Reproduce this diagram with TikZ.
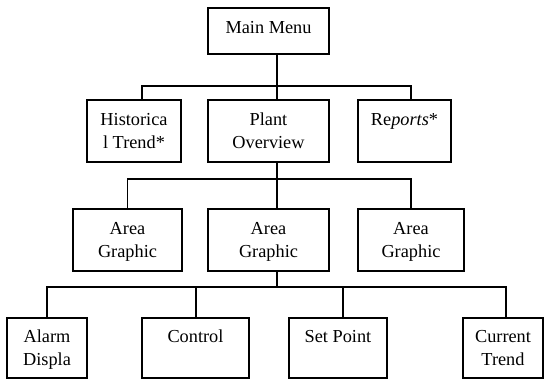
\documentclass[tikz,border=0pt]{standalone}
\usepackage{fontspec}
\setmainfont{Liberation Serif}

\begin{document}
\begin{tikzpicture}[x=1pt, y=-1pt, line width=1.6pt,
		menubox/.style={draw, rectangle, inner sep=0pt, align=center,
			font=\fontsize{18.3}{23}\selectfont, text height=35pt, text depth=0.4pt}]
			\useasboundingbox (0,0) rectangle (544,380);
			
			\node[menubox, minimum width=121pt, minimum height=46pt, text height=12pt, text depth=8pt] (mm) at (268.5,31) {Main Menu};
			
			\node[menubox, minimum width=94pt, minimum height=62pt] (hist) at (134,131) {Historica\\l Trend*};
			\node[menubox, minimum width=121pt, minimum height=62pt] (plant) at (268.5,131) {Plant\\Overview};
			\node[menubox, minimum width=93pt, minimum height=62pt] (rep) at (404.5,131) {Re\textit{ports}*\\\mbox{}};
			
			\node[menubox, minimum width=109pt, minimum height=62pt] (area1) at (127.5,240) {Area\\Graphic};
			\node[menubox, minimum width=121pt, minimum height=62pt] (area2) at (268.5,240) {Area\\Graphic};
			\node[menubox, minimum width=106pt, minimum height=62pt] (area3) at (411,240) {Area\\Graphic};
			
			\node[menubox, minimum width=80pt, minimum height=60pt] (alarm) at (47,348) {Alarm\\Displa};
			\node[menubox, minimum width=107pt, minimum height=60pt] (ctrl) at (195.5,348) {Control\\\mbox{}};
			\node[menubox, minimum width=98pt, minimum height=60pt] (setp) at (338,348) {Set Point\\\mbox{}};
			\node[menubox, minimum width=80pt, minimum height=60pt] (cur) at (503,348) {Current\\Trend};
			
			\coordinate (b1) at (0,86);
			\coordinate (b2) at (0,179);
			\coordinate (b3) at (0,287);
			
			\draw (mm.south) ++(8.5,0) coordinate (m1) -- (m1 |- plant.north);
			\draw (hist.north) ++(8,0) coordinate (h1) -- (h1 |- b1) -| ([xshift=6.5pt]rep.north);
			
			\draw (plant.south) ++(8.5,0) coordinate (p1) -- (p1 |- area2.north);
			\draw (area1.north) -- (area1.north |- b2) -| (area3.north);
			
			\draw (area2.south) ++(8.5,0) coordinate (g1) -- (g1 |- b3);
			\draw (alarm.north) -- (alarm.north |- b3) -| ([xshift=3pt]cur.north);
			\draw (ctrl.north) ++(0.5,0) coordinate (c1) -- (c1 |- b3);
			\draw (setp.north) ++(5,0) coordinate (s1) -- (s1 |- b3);
			
		\end{tikzpicture}
\end{document}
